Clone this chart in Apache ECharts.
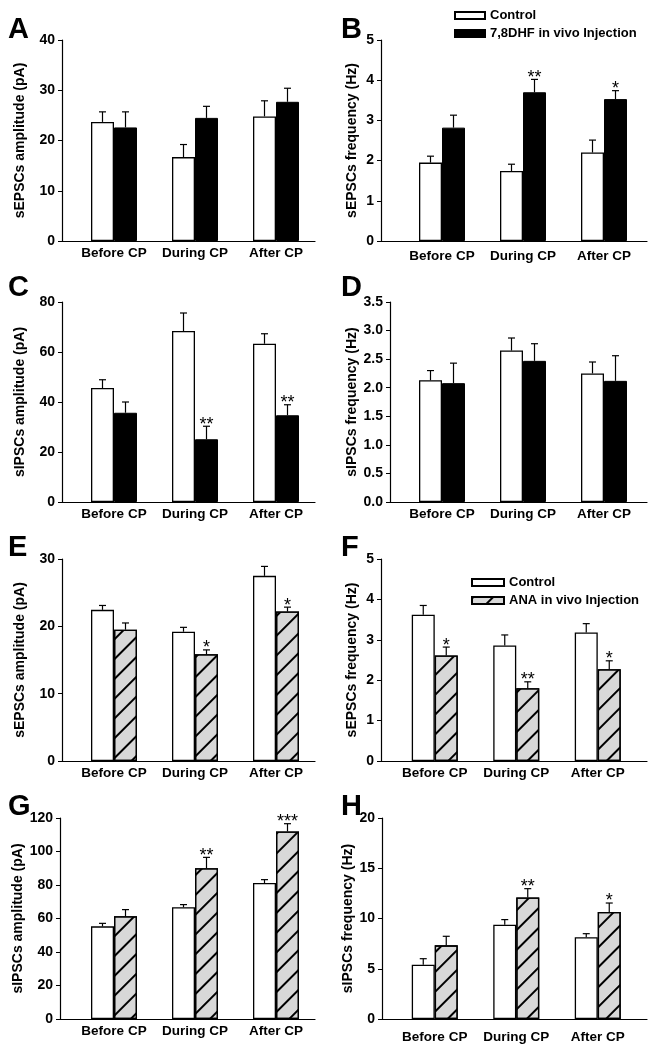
<!DOCTYPE html>
<html>
<head>
<meta charset="utf-8">
<script src="https://cdn.jsdelivr.net/npm/echarts@6/dist/echarts.min.js"></script>
<style>
  html, body { margin: 0; padding: 0; background: #fff; }
  #chart { width: 665px; height: 1050px; }
</style>
</head>
<body>
<div id="chart"></div>
<script>
// ---------------- DATA ----------------
const categories = ['Before CP', 'During CP', 'After CP'];

// Panel A: sEPSCs amplitude (pA), 7,8DHF
const aControl = [23.7, 16.7, 24.8];
const aControlErr = [2.0, 2.5, 3.1];
const aTreat = [22.6, 24.5, 27.7];
const aTreatErr = [3.1, 2.3, 2.7];
const aStars = ['', '', ''];
const aTicks = ['0', '10', '20', '30', '40'];

// Panel B: sEPSCs frequency (Hz), 7,8DHF
const bControl = [1.95, 1.74, 2.20];
const bControlErr = [0.16, 0.17, 0.31];
const bTreat = [2.82, 3.70, 3.53];
const bTreatErr = [0.31, 0.32, 0.21];
const bStars = ['', '**', '*'];
const bTicks = ['0', '1', '2', '3', '4', '5'];

// Panel C: sIPSCs amplitude (pA), 7,8DHF
const cControl = [45.6, 68.4, 63.3];
const cControlErr = [3.3, 7.2, 4.0];
const cTreat = [35.7, 25.1, 34.7];
const cTreatErr = [4.3, 5.2, 4.2];
const cStars = ['', '**', '**'];
const cTicks = ['0', '20', '40', '60', '80'];

// Panel D: sIPSCs frequency (Hz), 7,8DHF
const dControl = [2.13, 2.65, 2.25];
const dControlErr = [0.17, 0.22, 0.20];
const dTreat = [2.08, 2.47, 2.12];
const dTreatErr = [0.35, 0.30, 0.44];
const dStars = ['', '', ''];
const dTicks = ['0.0', '0.5', '1.0', '1.5', '2.0', '2.5', '3.0', '3.5'];

// Panel E: sEPSCs amplitude (pA), ANA
const eControl = [22.45, 19.2, 27.5];
const eControlErr = [0.65, 0.65, 1.4];
const eTreat = [19.5, 15.85, 22.2];
const eTreatErr = [1.0, 0.65, 0.65];
const eStars = ['', '*', '*'];
const eTicks = ['0', '10', '20', '30'];

// Panel F: sEPSCs frequency (Hz), ANA
const fControl = [3.62, 2.86, 3.18];
const fControlErr = [0.23, 0.26, 0.22];
const fTreat = [2.61, 1.80, 2.27];
const fTreatErr = [0.21, 0.16, 0.21];
const fStars = ['*', '**', '*'];
const fTicks = ['0', '1', '2', '3', '4', '5'];

// Panel G: sIPSCs amplitude (pA), ANA
const gControl = [55.3, 66.7, 81.2];
const gControlErr = [1.8, 1.6, 2.0];
const gTreat = [61.3, 90.0, 112.0];
const gTreatErr = [4.0, 6.5, 4.6];
const gStars = ['', '**', '***'];
const gTicks = ['0', '20', '40', '60', '80', '100', '120'];

// Panel H: sIPSCs frequency (Hz), ANA
const hControl = [5.4, 9.39, 8.13];
const hControlErr = [0.6, 0.5, 0.36];
const hTreat = [7.33, 12.1, 10.65];
const hTreatErr = [0.9, 0.87, 0.89];
const hStars = ['', '**', '*'];
const hTicks = ['0', '5', '10', '15', '20'];

const controlName = 'Control';
const dhfName = '7,8DHF in vivo Injection';
const anaName = 'ANA in vivo Injection';

// ---------------- STYLE / LAYOUT ----------------
const FONT = "'Liberation Sans', Arial, Helvetica, sans-serif";
const BAR_W = 23;

const panels = [
  { letter: 'A', name: 'sEPSCs amplitude (pA)', ticks: aTicks, ctl: aControl, ctlErr: aControlErr, trt: aTreat, trtErr: aTreatErr, stars: aStars, trtName: dhfName,
    axisX: 62, axisEnd: 315, innerL: 73.5, innerR: 316.5, top: 40, bottom: 241, nameGap: 35, labMargin: 5, lx: 3, ly: 10 },
  { letter: 'B', name: 'sEPSCs frequency (Hz)', ticks: bTicks, ctl: bControl, ctlErr: bControlErr, trt: bTreat, trtErr: bTreatErr, stars: bStars, trtName: dhfName,
    axisX: 381, axisEnd: 647, innerL: 401.5, innerR: 644.5, top: 40, bottom: 241, nameGap: 22, labMargin: 8, lx: 336, ly: 10 },
  { letter: 'C', name: 'sIPSCs amplitude (pA)', ticks: cTicks, ctl: cControl, ctlErr: cControlErr, trt: cTreat, trtErr: cTreatErr, stars: cStars, trtName: dhfName,
    axisX: 62, axisEnd: 315, innerL: 73.5, innerR: 316.5, top: 302, bottom: 502, nameGap: 35, labMargin: 5, lx: 3, ly: 268 },
  { letter: 'D', name: 'sIPSCs frequency (Hz)', ticks: dTicks, ctl: dControl, ctlErr: dControlErr, trt: dTreat, trtErr: dTreatErr, stars: dStars, trtName: dhfName,
    axisX: 390, axisEnd: 647, innerL: 401.5, innerR: 644.5, top: 302, bottom: 502, nameGap: 31, labMargin: 5, lx: 336, ly: 268 },
  { letter: 'E', name: 'sEPSCs amplitude (pA)', ticks: eTicks, ctl: eControl, ctlErr: eControlErr, trt: eTreat, trtErr: eTreatErr, stars: eStars, trtName: anaName,
    axisX: 62, axisEnd: 315, innerL: 73.5, innerR: 316.5, top: 559, bottom: 761, nameGap: 35, labMargin: 5, lx: 3, ly: 528 },
  { letter: 'F', name: 'sEPSCs frequency (Hz)', ticks: fTicks, ctl: fControl, ctlErr: fControlErr, trt: fTreat, trtErr: fTreatErr, stars: fStars, trtName: anaName,
    axisX: 381, axisEnd: 647, innerL: 394, innerR: 638.5, top: 559, bottom: 761, nameGap: 22, labMargin: 5, lx: 336, ly: 528 },
  { letter: 'G', name: 'sIPSCs amplitude (pA)', ticks: gTicks, ctl: gControl, ctlErr: gControlErr, trt: gTreat, trtErr: gTreatErr, stars: gStars, trtName: anaName,
    axisX: 60, axisEnd: 315, innerL: 73.5, innerR: 316.5, top: 818, bottom: 1019, nameGap: 35, labMargin: 5, lx: 3, ly: 787 },
  { letter: 'H', name: 'sIPSCs frequency (Hz)', ticks: hTicks, ctl: hControl, ctlErr: hControlErr, trt: hTreat, trtErr: hTreatErr, stars: hStars, trtName: anaName,
    axisX: 382, axisEnd: 647, innerL: 394, innerR: 638.5, top: 818, bottom: 1019, nameGap: 23, labMargin: 11, lx: 336, ly: 787 }
];

const styles = {};
styles[controlName] = { color: '#ffffff', borderColor: '#000', borderWidth: 1.3 };
styles[dhfName] = { color: '#000000', borderColor: '#000', borderWidth: 1 };
styles[anaName] = {
  color: '#d8d8d8', borderColor: '#000', borderWidth: 1.3,
  decal: { symbol: 'rect', symbolSize: 1, color: '#000', dashArrayX: [1, 0], dashArrayY: [1.6, 11.4], rotation: -Math.PI / 4 }
};

function errRender(side, stars) {
  return function (params, api) {
    const i = api.value(0), v = api.value(1), e = api.value(2);
    const base = api.coord([i, v]);
    const top = api.coord([i, v + e]);
    const x = base[0] + side * BAR_W / 2;
    const children = [
      { type: 'line', shape: { x1: x, y1: base[1], x2: x, y2: top[1] }, style: { stroke: '#000', lineWidth: 1.2 } },
      { type: 'line', shape: { x1: x - 3.5, y1: top[1], x2: x + 3.5, y2: top[1] }, style: { stroke: '#000', lineWidth: 1.2 } }
    ];
    const s = stars ? stars[params.dataIndex] : '';
    if (s) {
      children.push({ type: 'text', style: { text: s, x: x, y: top[1] - 1.5, align: 'center', verticalAlign: 'middle',
        font: '18px ' + FONT, fill: '#000' } });
    }
    return { type: 'group', children: children };
  };
}

const option = {
  animation: false,
  backgroundColor: '#fff',
  title: [],
  grid: [],
  xAxis: [],
  yAxis: [],
  series: [],
  legend: [
    { left: 449, top: 4, orient: 'vertical', itemWidth: 30, itemHeight: 7, itemGap: 5, icon: 'rect',
      selectedMode: false, data: [controlName, dhfName],
      textStyle: { fontFamily: FONT, fontWeight: 'bold', fontSize: 13, color: '#000' } },
    { left: 466, top: 571, orient: 'vertical', itemWidth: 32, itemHeight: 7, itemGap: 5, icon: 'rect',
      selectedMode: false, data: [controlName, anaName],
      textStyle: { fontFamily: FONT, fontWeight: 'bold', fontSize: 13, color: '#000' } }
  ]
};

panels.forEach(function (p, k) {
  const nums = p.ticks.map(parseFloat);
  const min = nums[0], max = nums[nums.length - 1], interval = nums[1] - nums[0];
  const outer = 2 * k, inner = 2 * k + 1;
  const h = p.bottom - p.top;

  option.title.push({ text: p.letter, left: p.lx, top: p.ly,
    textStyle: { fontFamily: FONT, fontWeight: 'bold', fontSize: 29, color: '#000' } });

  option.grid.push({ left: p.axisX, top: p.top, width: p.axisEnd - p.axisX, height: h });
  option.grid.push({ left: p.innerL, top: p.top, width: p.innerR - p.innerL, height: h });

  // outer: axes lines, y ticks and name
  option.xAxis.push({ type: 'category', gridIndex: outer, data: [''], axisLine: { show: true, lineStyle: { color: '#000', width: 1.2 } },
    axisTick: { show: false }, axisLabel: { show: false }, splitLine: { show: false } });
  option.yAxis.push({ type: 'value', gridIndex: outer, min: min, max: max, interval: interval,
    name: p.name, nameLocation: 'middle', nameGap: p.nameGap, nameRotate: 90,
    nameTextStyle: { fontFamily: FONT, fontWeight: 'bold', fontSize: 14, color: '#000' },
    axisLine: { show: true, lineStyle: { color: '#000', width: 1.2 } },
    axisTick: { show: true, inside: false, length: 4, lineStyle: { color: '#000', width: 1 } },
    axisLabel: { margin: 7, fontFamily: FONT, fontWeight: 'bold', fontSize: 14, color: '#000',
      formatter: function (v) { const idx = Math.round((v - min) / interval); return p.ticks[idx] !== undefined ? p.ticks[idx] : ''; } },
    splitLine: { show: false } });

  // inner: bars & categories
  option.xAxis.push({ type: 'category', gridIndex: inner, data: categories, axisLine: { show: false }, axisTick: { show: false },
    axisLabel: { margin: p.labMargin, fontFamily: FONT, fontWeight: 'bold', fontSize: 13.5, color: '#000', interval: 0 } });
  option.yAxis.push({ type: 'value', gridIndex: inner, min: min, max: max, interval: interval, show: false, splitLine: { show: false } });

  option.series.push({ type: 'bar', name: controlName, xAxisIndex: inner, yAxisIndex: inner, data: p.ctl,
    barWidth: BAR_W, barGap: '0%', itemStyle: styles[controlName], z: 2 });
  option.series.push({ type: 'bar', name: p.trtName, xAxisIndex: inner, yAxisIndex: inner, data: p.trt,
    barWidth: BAR_W, barGap: '0%', itemStyle: styles[p.trtName], z: 2 });

  option.series.push({ type: 'custom', name: 'err-ctl-' + p.letter, xAxisIndex: inner, yAxisIndex: inner, z: 3,
    renderItem: errRender(-1, null), encode: { x: 0, y: 1 },
    data: p.ctl.map(function (v, i) { return [i, v, p.ctlErr[i]]; }) });
  option.series.push({ type: 'custom', name: 'err-trt-' + p.letter, xAxisIndex: inner, yAxisIndex: inner, z: 3,
    renderItem: errRender(1, p.stars), encode: { x: 0, y: 1 },
    data: p.trt.map(function (v, i) { return [i, v, p.trtErr[i]]; }) });
});

const chart = echarts.init(document.getElementById('chart'), null, { renderer: 'canvas' });
chart.setOption(option);
</script>
</body>
</html>
